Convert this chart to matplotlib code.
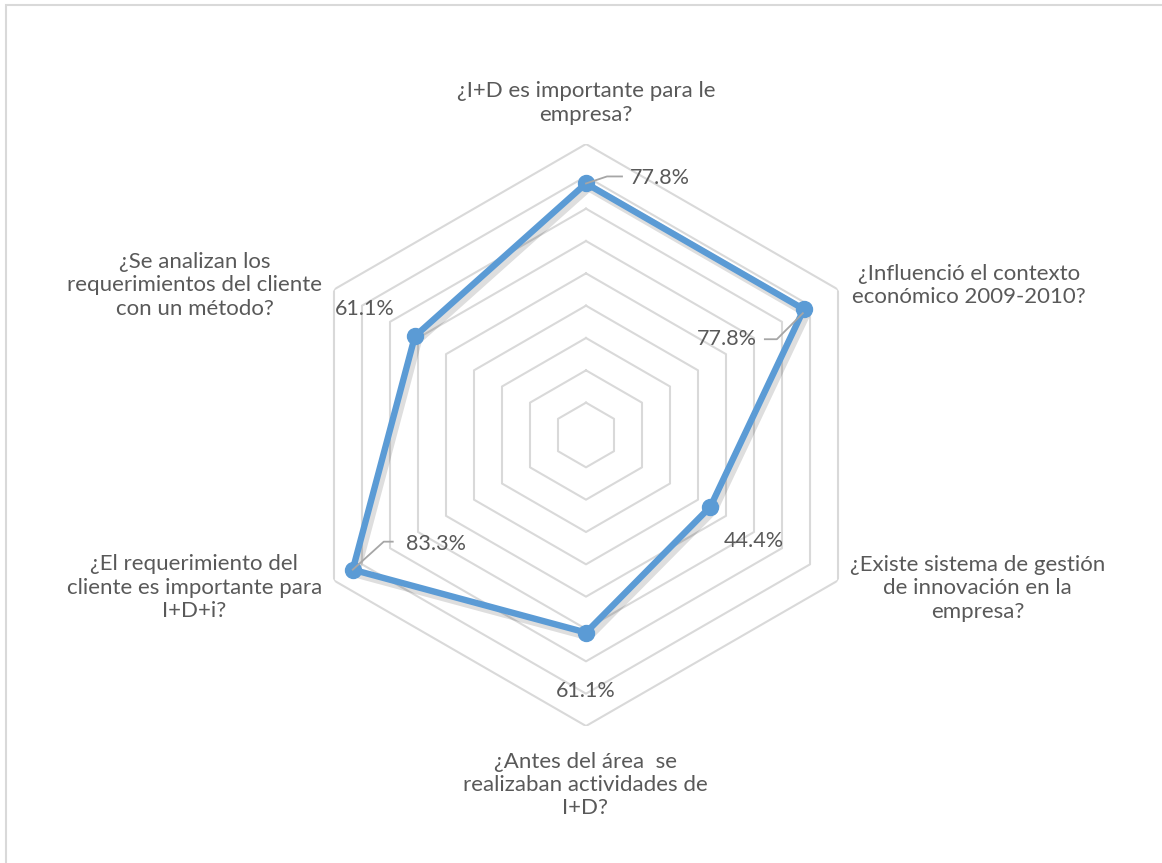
import numpy as np
import matplotlib
matplotlib.use("Agg")
import matplotlib.pyplot as plt
from matplotlib.lines import Line2D
from matplotlib.patches import Rectangle
from matplotlib.transforms import IdentityTransform
import matplotlib.patheffects as pe

# Survey questions (clockwise from the top) and share of positive answers
categories = [
    "¿I+D es importante para le\nempresa?",
    "¿Influenció el contexto\neconómico 2009-2010?",
    "¿Existe sistema de gestión\nde innovación en la\nempresa?",
    "¿Antes del área  se\nrealizaban actividades de\nI+D?",
    "¿El requerimiento del\ncliente es importante para\nI+D+i?",
    "¿Se analizan los\nrequerimientos del cliente\ncon un método?",
]
values = [0.778, 0.778, 0.444, 0.611, 0.833, 0.611]
value_labels = ["77.8%", "77.8%", "44.4%", "61.1%", "83.3%", "61.1%"]
ring_levels = [0.1, 0.2, 0.3, 0.4, 0.5, 0.6, 0.7, 0.8, 0.9]

TEXT = "#595959"
GRID = "#D9D9D9"
BLUE = "#5B9BD5"
FONT = "Lato"

W, H = 1162, 863
fig = plt.figure(figsize=(W / 100, H / 100), dpi=100)
fig.patch.set_facecolor("white")

# outer chart frame
fig.patches.append(Rectangle((6 / W, -0.05), 1.2, 1.05 - 5 / H,
                             transform=fig.transFigure, fill=False,
                             edgecolor=GRID, linewidth=1.5))

cx, cy, R = 586, 435, 291
ax = fig.add_axes([(cx - R) / W, (H - cy - R) / H, 2 * R / W, 2 * R / H],
                  projection="polar")
ax.set_theta_offset(np.pi / 2)
ax.set_theta_direction(-1)
ax.set_ylim(0, ring_levels[-1])
ax.grid(False)
ax.spines["polar"].set_visible(False)
ax.set_xticks([])
ax.set_yticks([])
ax.patch.set_alpha(0)

n = len(categories)
theta = np.arange(n) * 2 * np.pi / n
theta_closed = np.append(theta, theta[0])

# hexagonal grid rings
for lvl in ring_levels:
    ax.plot(theta_closed, [lvl] * (n + 1), color=GRID, lw=1.5, zorder=1)

# data series with a soft drop shadow
vals_closed = np.append(values, values[0])
shadow = [pe.SimpleLineShadow(offset=(2, -2.5), shadow_color="black",
                              alpha=0.13, linewidth=6.5),
          pe.Normal()]
ax.plot(theta_closed, vals_closed, color=BLUE, lw=4.6, zorder=3,
        solid_joinstyle="round", path_effects=shadow)
ax.plot(theta, values, "o", color=BLUE, markeredgecolor=BLUE,
        markersize=11.5, zorder=4)

# data labels: (offset in px, horizontal alignment, leader-line vertices in px)
label_specs = [
    ((44, 5), "left", [(0, 0), (21, 7), (36, 7)]),
    ((-47, -30), "right", [(-1, -4), (-27, -30), (-39, -30)]),
    ((13, -34), "left", None),
    ((0, -58), "center", None),
    ((53, 26), "left", [(0, 0), (31, 28), (40, 28)]),
    ((-20, 27), "right", None),
]
fig.canvas.draw()
for t, v, txt, (off, ha, leader) in zip(theta, values, value_labels, label_specs):
    ax.annotate(txt, xy=(t, v), xytext=off, textcoords="offset pixels",
                ha=ha, va="center", fontsize=15.5, color=TEXT, family=FONT,
                zorder=5, annotation_clip=False)
    if leader:
        bx, by = ax.transData.transform((t, v))
        xs = [bx + p[0] for p in leader]
        ys = [by + p[1] for p in leader]
        fig.lines.append(Line2D(xs, ys, transform=IdentityTransform(),
                                color="#A6A6A6", lw=1.3, zorder=2))

# category labels placed relative to the outer ring vertices
cat_specs = [
    ((0, 41), "center"),
    ((14, 4), "left"),
    ((12, -8), "left"),
    ((-1, -59), "center"),
    ((-12, -7), "right"),
    ((-12, 4), "right"),
]
for t, txt, (off, ha) in zip(theta, categories, cat_specs):
    ax.annotate(txt, xy=(t, ring_levels[-1]), xytext=off,
                textcoords="offset pixels", ha=ha, va="center",
                multialignment="center", fontsize=16, color=TEXT,
                family=FONT, linespacing=1.2, annotation_clip=False)

fig.savefig("out.png", dpi=100, facecolor="white")
